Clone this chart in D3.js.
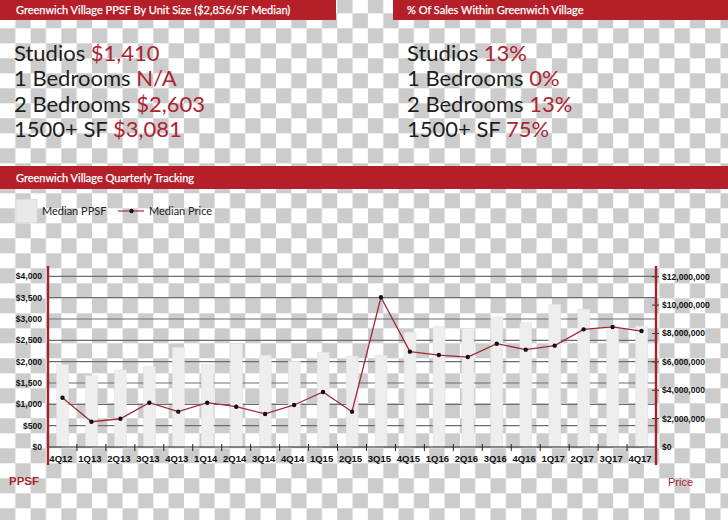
<!DOCTYPE html>
<html><head><meta charset="utf-8">
<script src="https://cdn.jsdelivr.net/npm/d3@7"></script>
<style>body{margin:0;background:#fff}svg{display:block}</style>
</head><body>
<svg id="c" width="728" height="520"></svg>
<script>
const quarters = ["4Q12","1Q13","2Q13","3Q13","4Q13","1Q14","2Q14","3Q14","4Q14","1Q15","2Q15","3Q15","4Q15","1Q16","2Q16","3Q16","4Q16","1Q17","2Q17","3Q17","4Q17"];
const medianPPSF = [1930,1670,1800,1880,2330,1930,2420,2150,2010,2215,2130,2150,2690,2830,2780,3050,2910,3340,3230,2820,2830];
const medianPrice = [3470000,1780000,1990000,3120000,2490000,3120000,2840000,2330000,2960000,3880000,2490000,10550000,6720000,6480000,6340000,7280000,6860000,7140000,8290000,8460000,8170000];
const ppsfTicks = [0,500,1000,1500,2000,2500,3000,3500,4000];
const priceTicks = [0,2000000,4000000,6000000,8000000,10000000,12000000];
const unitTypes = ["Studios","1 Bedrooms","2 Bedrooms","1500+ SF"];
const ppsfByUnit = ["$1,410","N/A","$2,603","$3,081"];
const shareByUnit = ["13%","0%","13%","75%"];
const titles = ["Greenwich Village PPSF By Unit Size ($2,856/SF Median)","% Of Sales Within Greenwich Village","Greenwich Village Quarterly Tracking"];

const RED = "#b41f2a", TXTRED = "#ad2430", LINE = "#a02a38";
const svg = d3.select("#c");

// transparent-background checkerboard
const defs = svg.append("defs");
const pat = defs.append("pattern").attr("id","chk").attr("patternUnits","userSpaceOnUse")
  .attr("x",0).attr("y",-1.7).attr("width",30.66).attr("height",30);
pat.append("rect").attr("width",30.66).attr("height",30).attr("fill","#fff");
pat.append("rect").attr("x",0).attr("y",0).attr("width",15.33).attr("height",15).attr("fill","#cccccc");
pat.append("rect").attr("x",15.33).attr("y",15).attr("width",15.33).attr("height",15).attr("fill","#cccccc");
svg.append("rect").attr("width",728).attr("height",520).attr("fill","url(#chk)");

const headFont = "Lato, 'Open Sans', sans-serif";
// header bars
svg.append("rect").attr("x",0).attr("y",0).attr("width",336).attr("height",20).attr("fill",RED);
svg.append("rect").attr("x",393).attr("y",0).attr("width",335).attr("height",20).attr("fill",RED);
svg.append("rect").attr("x",0).attr("y",166).attr("width",728).attr("height",23).attr("fill",RED);
[[16,14,titles[0]],[407,14,titles[1]],[16,181.5,titles[2]]].forEach(([x,y,t])=>{
  svg.append("text").attr("x",x).attr("y",y).attr("fill","#fff")
    .attr("font-family",headFont).attr("font-size",11).attr("font-weight",400)
    .attr("stroke","#fff").attr("stroke-width",0.25).text(t);
});

// big stats
function stats(x, vals){
  unitTypes.forEach((u,i)=>{
    const t = svg.append("text").attr("x",x).attr("y",60.5+i*25.6)
      .attr("font-family",headFont).attr("font-weight",400).attr("font-size",22).attr("fill","#1e1e1e");
    t.append("tspan").text(u+" ");
    t.append("tspan").attr("fill",TXTRED).text(vals[i]);
  });
}
stats(14, ppsfByUnit);
stats(407, shareByUnit);

// legend
svg.append("rect").attr("x",16).attr("y",199.5).attr("width",21).attr("height",23).attr("fill","#e9e9e9").attr("stroke","#dcdcdc");
svg.append("text").attr("x",42).attr("y",215).attr("font-family",headFont).attr("font-size",11).attr("fill","#222").text("Median PPSF");
svg.append("line").attr("x1",118).attr("x2",144).attr("y1",211).attr("y2",211).attr("stroke",LINE).attr("stroke-width",1.2);
svg.append("circle").attr("cx",131.5).attr("cy",211).attr("r",2.2).attr("fill","#111");
svg.append("text").attr("x",149).attr("y",215).attr("font-family",headFont).attr("font-size",11).attr("fill","#222").text("Median Price");

// chart
const L = 48, R = 656, B = 447, T = 276.3;
const x = d3.scaleBand().domain(quarters).range([L,R]).padding(0);
const yL = d3.scaleLinear().domain([0,4000]).range([B,T]);
const yR = d3.scaleLinear().domain([0,12000000]).range([B,T+0.4]);
const bw = x.bandwidth();

// gridlines
svg.append("g").selectAll("line").data(ppsfTicks.slice(1)).join("line")
  .attr("x1",L).attr("x2",R).attr("y1",d=>yL(d)).attr("y2",d=>yL(d))
  .attr("stroke","#6e6e6e").attr("stroke-width",1.2);

// bars
svg.append("g").selectAll("rect").data(quarters).join("rect")
  .attr("x",d=>x(d)+bw*0.3).attr("width",bw*0.41)
  .attr("y",(d,i)=>yL(medianPPSF[i])).attr("height",(d,i)=>B-yL(medianPPSF[i]))
  .attr("fill","#eeeeee").attr("stroke","#e2e2e2").attr("stroke-width",0.6);

// line
const line = d3.line().x((d,i)=>x(quarters[i])+bw/2).y(d=>yR(d));
svg.append("path").datum(medianPrice).attr("d",line).attr("fill","none").attr("stroke",LINE).attr("stroke-width",1.3);
svg.append("g").selectAll("circle").data(medianPrice).join("circle")
  .attr("cx",(d,i)=>x(quarters[i])+bw/2).attr("cy",d=>yR(d)).attr("r",2.2).attr("fill","#111");

// x axis
svg.append("line").attr("x1",L).attr("x2",R).attr("y1",B).attr("y2",B).attr("stroke","#222").attr("stroke-width",1.2);
svg.append("g").selectAll("line").data(quarters.slice(1)).join("line")
  .attr("x1",d=>x(d)).attr("x2",d=>x(d)).attr("y1",B-3).attr("y2",B+4).attr("stroke","#222").attr("stroke-width",1);
svg.append("g").selectAll("text").data(quarters).join("text")
  .attr("x",d=>x(d)+bw/2-1.5).attr("y",461.5).attr("text-anchor","middle")
  .attr("font-family","'Liberation Sans Narrow','Liberation Sans',Arial,sans-serif").attr("font-weight","bold")
  .attr("font-size",9.5).attr("fill","#111").text(d=>d);

// left axis labels
const fmtL = d=>"$"+d3.format(",")(d);
svg.append("g").selectAll("text").data(ppsfTicks).join("text")
  .attr("x",42).attr("y",d=>yL(d)+3).attr("text-anchor","end")
  .attr("font-family","'Liberation Sans',Arial,sans-serif").attr("font-weight","bold")
  .attr("font-size",8.6).attr("fill","#111").text(fmtL);
// right axis labels & ticks
svg.append("g").selectAll("line").data(priceTicks.slice(1)).join("line")
  .attr("x1",R-4).attr("x2",R+3).attr("y1",d=>yR(d)).attr("y2",d=>yR(d)).attr("stroke","#333").attr("stroke-width",1);
svg.append("g").selectAll("text").data(priceTicks).join("text")
  .attr("x",662).attr("y",d=>yR(d)+3).attr("text-anchor","start")
  .attr("font-family","'Liberation Sans',Arial,sans-serif").attr("font-weight","bold")
  .attr("font-size",8.6).attr("fill","#111").text(fmtL);

// red axis lines
[L,R].forEach(xx=>svg.append("line").attr("x1",xx).attr("x2",xx).attr("y1",266).attr("y2",465)
  .attr("stroke","#a3222c").attr("stroke-width",2.4));

svg.append("text").attr("x",9).attr("y",485).attr("font-family","'Liberation Sans',Arial,sans-serif")
  .attr("font-weight","bold").attr("font-size",11.5).attr("fill","#a52a2a").text("PPSF");
svg.append("text").attr("x",668).attr("y",485.5).attr("font-family","'Liberation Sans',Arial,sans-serif")
  .attr("font-size",11).attr("fill","#a52a2a").text("Price");
</script>
</body></html>
